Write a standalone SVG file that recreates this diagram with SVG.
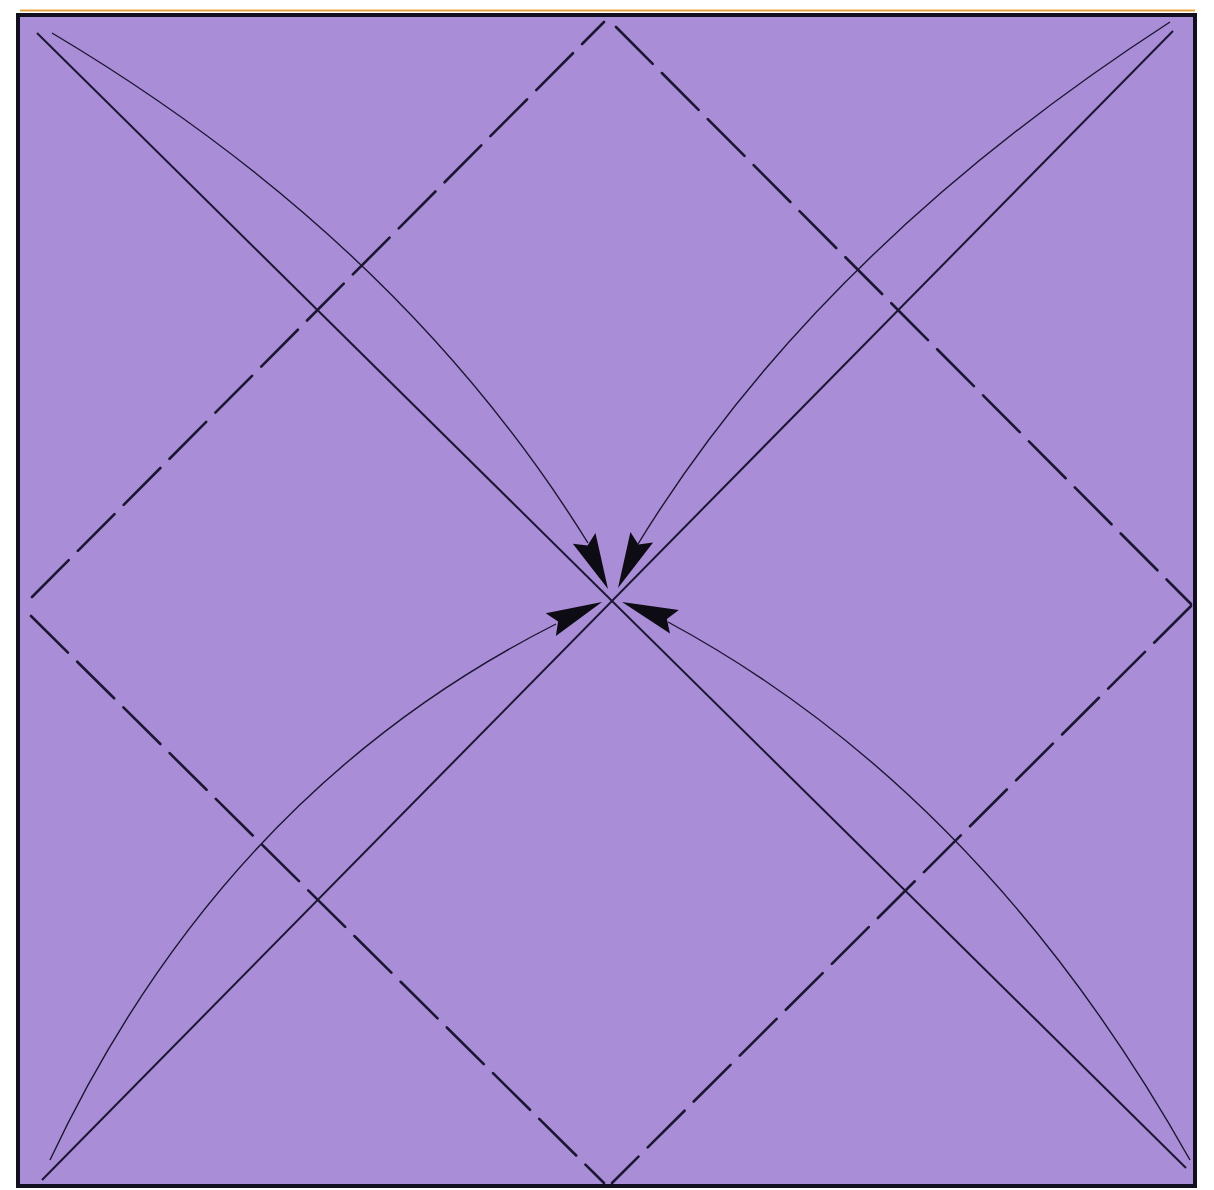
<svg xmlns="http://www.w3.org/2000/svg" width="1214" height="1190" viewBox="0 0 1214 1190">
  <style>
    .paper { fill: #a98dd6; stroke: #121020; stroke-width: 4; }
    .crease { stroke: #1c1633; stroke-width: 2.6; stroke-dasharray: 52 13; fill: none; stroke-linecap: round; }
    .diag { stroke: #1c1633; stroke-width: 2; fill: none; }
    .curve { stroke: #1c1633; stroke-width: 1.4; fill: none; }
    .head { fill: #0d0b14; }
  </style>
  <defs>
    <path id="arrowhead" d="M0,0 L-56,-12.5 L-48,0 L-56,12.5 Z"/>
  </defs>
  <rect x="0" y="0" width="1214" height="1190" fill="#ffffff"/>
  <line x1="20" y1="10.5" x2="1195" y2="10.5" stroke="#e3a444" stroke-width="2"/>
  <g id="paper">
    <rect class="paper" x="18" y="15" width="1177" height="1171"/>
  </g>
  <g id="creases">
    <line class="crease" x1="32" y1="597" x2="604" y2="22"/>
    <line class="crease" x1="616" y1="27" x2="1191" y2="604"/>
    <line class="crease" x1="1191" y1="606" x2="612" y2="1183"/>
    <line class="crease" x1="31" y1="616" x2="604" y2="1183"/>
  </g>
  <g id="diagonals">
    <line class="diag" x1="37" y1="33" x2="1186" y2="1168"/>
    <line class="diag" x1="1173" y1="31" x2="42" y2="1180"/>
  </g>
  <g id="connectors">
    <path class="curve" d="M52,33 Q400,240 588,543"/>
    <path class="curve" d="M1170,22 Q818,250 638,544"/>
    <path class="curve" d="M50,1160 Q223,792 556,624"/>
    <path class="curve" d="M1190,1160 Q983,792 668,622"/>
    <use href="#arrowhead" class="head" transform="translate(608,589) rotate(64.8)"/>
    <use href="#arrowhead" class="head" transform="translate(618,588) rotate(115.1)"/>
    <use href="#arrowhead" class="head" transform="translate(602,602) rotate(-23.9)"/>
    <use href="#arrowhead" class="head" transform="translate(622,602) rotate(200.7)"/>
  </g>
</svg>
